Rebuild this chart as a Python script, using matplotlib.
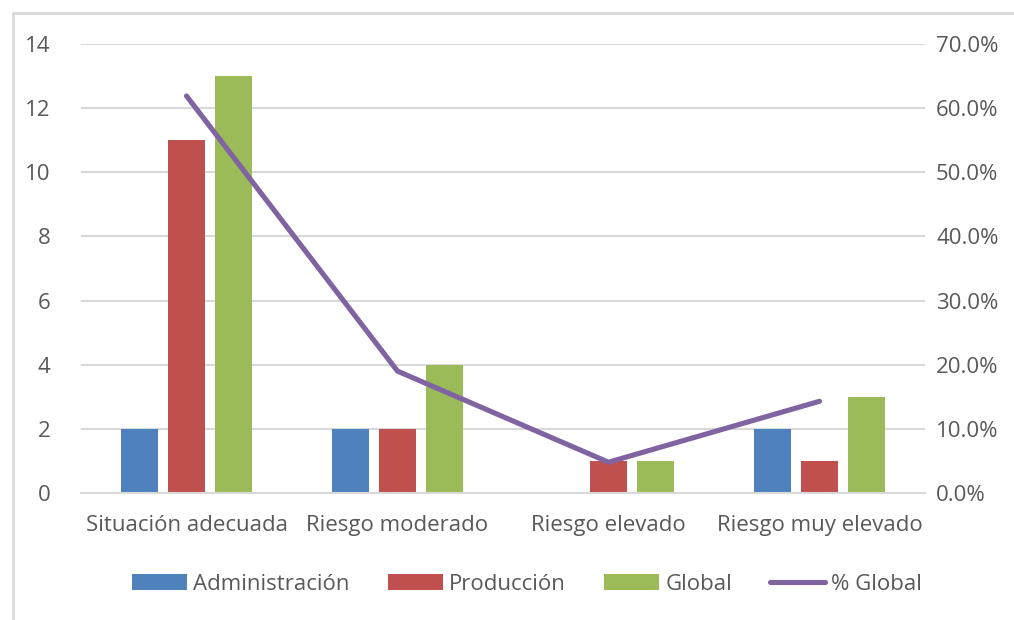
import matplotlib.pyplot as plt
import numpy as np
from matplotlib.patches import Rectangle
from matplotlib.ticker import PercentFormatter

categorias = ["Situación adecuada", "Riesgo moderado", "Riesgo elevado", "Riesgo muy elevado"]
administracion = [2, 2, 0, 2]
produccion = [11, 2, 1, 1]
global_ = [13, 4, 1, 3]
pct_global = [61.9, 19.0, 4.8, 14.3]

azul = "#4F81BD"
rojo = "#C0504D"
verde = "#9BBB59"
morado = "#8064A2"
gris_txt = "#595959"
gris_lin = "#D9D9D9"

plt.rcParams["font.family"] = ["Open Sans", "DejaVu Sans"]

fig = plt.figure(figsize=(10.14, 6.2), dpi=100)
ax = fig.add_axes([81 / 1014, 1 - 493 / 620, (925 - 81) / 1014, (493 - 44) / 620])

# Marco del grafico
fig.patches.append(Rectangle((13 / 1014, -0.1), 1.2, 1 - 13 / 620 + 0.1,
                             transform=fig.transFigure, fill=False,
                             edgecolor=gris_lin, linewidth=2))

x = np.arange(len(categorias))
ancho = 0.175
sep = 0.223
ax.bar(x - sep, administracion, ancho, color=azul, label="Administración", zorder=2)
ax.bar(x, produccion, ancho, color=rojo, label="Producción", zorder=2)
ax.bar(x + sep, global_, ancho, color=verde, label="Global", zorder=2)

ax.set_xlim(-0.5, len(categorias) - 0.5)
ax.set_ylim(0, 14)
ax.set_yticks(range(0, 15, 2))
ax.set_xticks(x)
ax.set_xticklabels(categorias)
ax.grid(axis="y", color=gris_lin, linewidth=1.5, zorder=0)
ax.set_axisbelow(True)
for s in ["top", "right", "left"]:
    ax.spines[s].set_visible(False)
ax.spines["bottom"].set_color(gris_lin)
ax.spines["bottom"].set_linewidth(1.5)
ax.tick_params(length=0, labelsize=16, colors=gris_txt)
ax.tick_params(axis="y", pad=22)
ax.tick_params(axis="x", pad=16)

ax2 = ax.twinx()
ax2.plot(x, pct_global, color=morado, linewidth=3.7, solid_capstyle="round",
         label="% Global", zorder=3)
ax2.set_ylim(0, 70)
ax2.set_yticks(range(0, 71, 10))
ax2.yaxis.set_major_formatter(PercentFormatter(decimals=1))
for s in ax2.spines.values():
    s.set_visible(False)
ax2.tick_params(length=0, labelsize=16, colors=gris_txt, pad=8)

h1, l1 = ax.get_legend_handles_labels()
h2, l2 = ax2.get_legend_handles_labels()
fig.legend(h1 + h2, l1 + l2, loc="center", bbox_to_anchor=(527 / 1014, 1 - 584 / 620),
           ncol=4, frameon=False, fontsize=16, labelcolor=gris_txt,
           handlelength=2.5, handleheight=0.7, handletextpad=0.27, columnspacing=1.7)

fig.savefig("out.png", dpi=100)
